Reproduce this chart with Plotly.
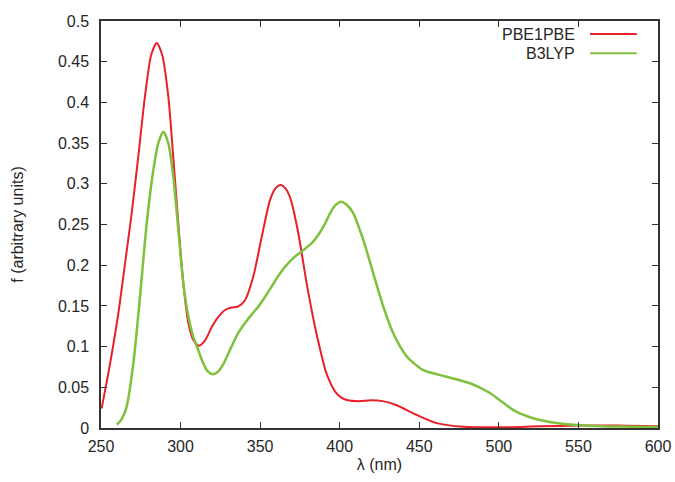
import plotly.graph_objects as go

# wavelengths (nm) and oscillator strengths
pbe_wl = [250.4, 255.7, 260.9, 265.1, 269.3, 273.4, 277.6, 281.5, 285, 288.5,
          292.3, 295.4, 298.6, 301.7, 304.9, 308, 311.5, 315.5, 319.6, 323.5,
          328, 332, 336, 340.5, 345.7, 351, 356.2, 359.5, 362.9, 366, 369,
          374, 379.2, 384.5, 388, 391, 394, 397, 400.5, 405, 412, 420, 427,
          435.8, 448.4, 461, 477.7, 500, 525, 550, 575, 600]
pbe_f = [0.024, 0.079, 0.141, 0.202, 0.264, 0.333, 0.407, 0.458, 0.473, 0.458,
         0.407, 0.333, 0.251, 0.178, 0.129, 0.108, 0.101, 0.108, 0.124, 0.136,
         0.145, 0.148, 0.149, 0.157, 0.186, 0.235, 0.280, 0.294, 0.2985, 0.294,
         0.282, 0.239, 0.178, 0.124, 0.094, 0.071, 0.056, 0.045, 0.038, 0.034,
         0.033, 0.034, 0.033, 0.028, 0.016, 0.006, 0.0015, 0.0008, 0.002,
         0.003, 0.003, 0.002]

b3lyp_wl = [259.9, 263, 266.1, 270.3, 274.5, 278.7, 282.9, 286, 289.2, 292.3,
            295.4, 298.6, 301.7, 304.9, 308, 311.1, 313.5, 316.5, 320, 323.5,
            327, 332, 336, 340.5, 344.5, 348.8, 353, 357.3, 361.5, 365.6, 371,
            376.1, 382.4, 386.5, 390.8, 394, 397.5, 400.8, 404.5, 408.5, 414.8,
            421.1, 427.4, 433.7, 442.1, 452.6, 467.2, 481.9, 494.4, 500, 510,
            521.6, 535, 549, 565, 584, 600]
b3lyp_f = [0.004, 0.011, 0.026, 0.079, 0.161, 0.251, 0.317, 0.350, 0.364, 0.350,
           0.309, 0.243, 0.178, 0.137, 0.112, 0.096, 0.083, 0.071, 0.066, 0.069,
           0.079, 0.100, 0.116, 0.129, 0.139, 0.149, 0.161, 0.174, 0.187, 0.198,
           0.209, 0.217, 0.227, 0.237, 0.251, 0.264, 0.274, 0.278, 0.274, 0.264,
           0.231, 0.190, 0.149, 0.116, 0.088, 0.071, 0.063, 0.055, 0.043, 0.035,
           0.021, 0.012, 0.0065, 0.0037, 0.0022, 0.0016, 0.001]

x_ticks = [250, 300, 350, 400, 450, 500, 550, 600]
y_ticks = [0, 0.05, 0.1, 0.15, 0.2, 0.25, 0.3, 0.35, 0.4, 0.45, 0.5]
y_labels = ['0', '0.05', '0.1', '0.15', '0.2', '0.25', '0.3', '0.35', '0.4',
            '0.45', '0.5']

names = ['PBE1PBE', 'B3LYP']
colors = ['#e8202a', '#7fc03c']

font = dict(family='Liberation Sans, Arial, sans-serif', size=16, color='#262626')

fig = go.Figure()
fig.add_trace(go.Scatter(x=pbe_wl, y=pbe_f, name=names[0], mode='lines',
                         line=dict(color=colors[0], width=2, shape='spline',
                                   smoothing=0.7)))
fig.add_trace(go.Scatter(x=b3lyp_wl, y=b3lyp_f, name=names[1], mode='lines',
                         line=dict(color=colors[1], width=2.5, shape='spline',
                                   smoothing=0.7)))

axis_style = dict(showline=True, linecolor='#333333', linewidth=1.5,
                  mirror='ticks', ticks='inside', ticklen=6,
                  tickcolor='#333333', showgrid=False, zeroline=False,
                  tickfont=font, automargin=False)

fig.update_xaxes(range=[250, 600], tickvals=x_ticks, ticklabelstandoff=3,
                 title=dict(text='λ (nm)', font=font, standoff=5),
                 **axis_style)
fig.update_yaxes(range=[0, 0.5], tickvals=y_ticks, ticktext=y_labels,
                 ticklabelstandoff=7,
                 title=dict(text='f (arbitrary units)', font=font, standoff=30),
                 **axis_style)

# gnuplot-style key: label right-aligned, sample line to its right
for i, (name, color) in enumerate(zip(names, colors)):
    ky = 0.968 - i * 0.047
    fig.add_annotation(x=0.855, y=ky, xref='paper', yref='paper', text=name,
                       showarrow=False, xanchor='right', yanchor='middle',
                       font=font)
    fig.add_shape(type='line', xref='paper', yref='paper', x0=0.878, x1=0.962,
                  y0=ky, y1=ky, line=dict(color=color, width=2))

fig.update_layout(
    width=675, height=482,
    margin=dict(l=101, r=17, t=21, b=54),
    paper_bgcolor='white', plot_bgcolor='white',
    font=font,
    showlegend=False,
)

# drop the browser's default 8px body margin so the figure sits at 0,0
fig.write_html("out.html", config={'displayModeBar': False},
               post_script="document.body.style.margin='0';")
